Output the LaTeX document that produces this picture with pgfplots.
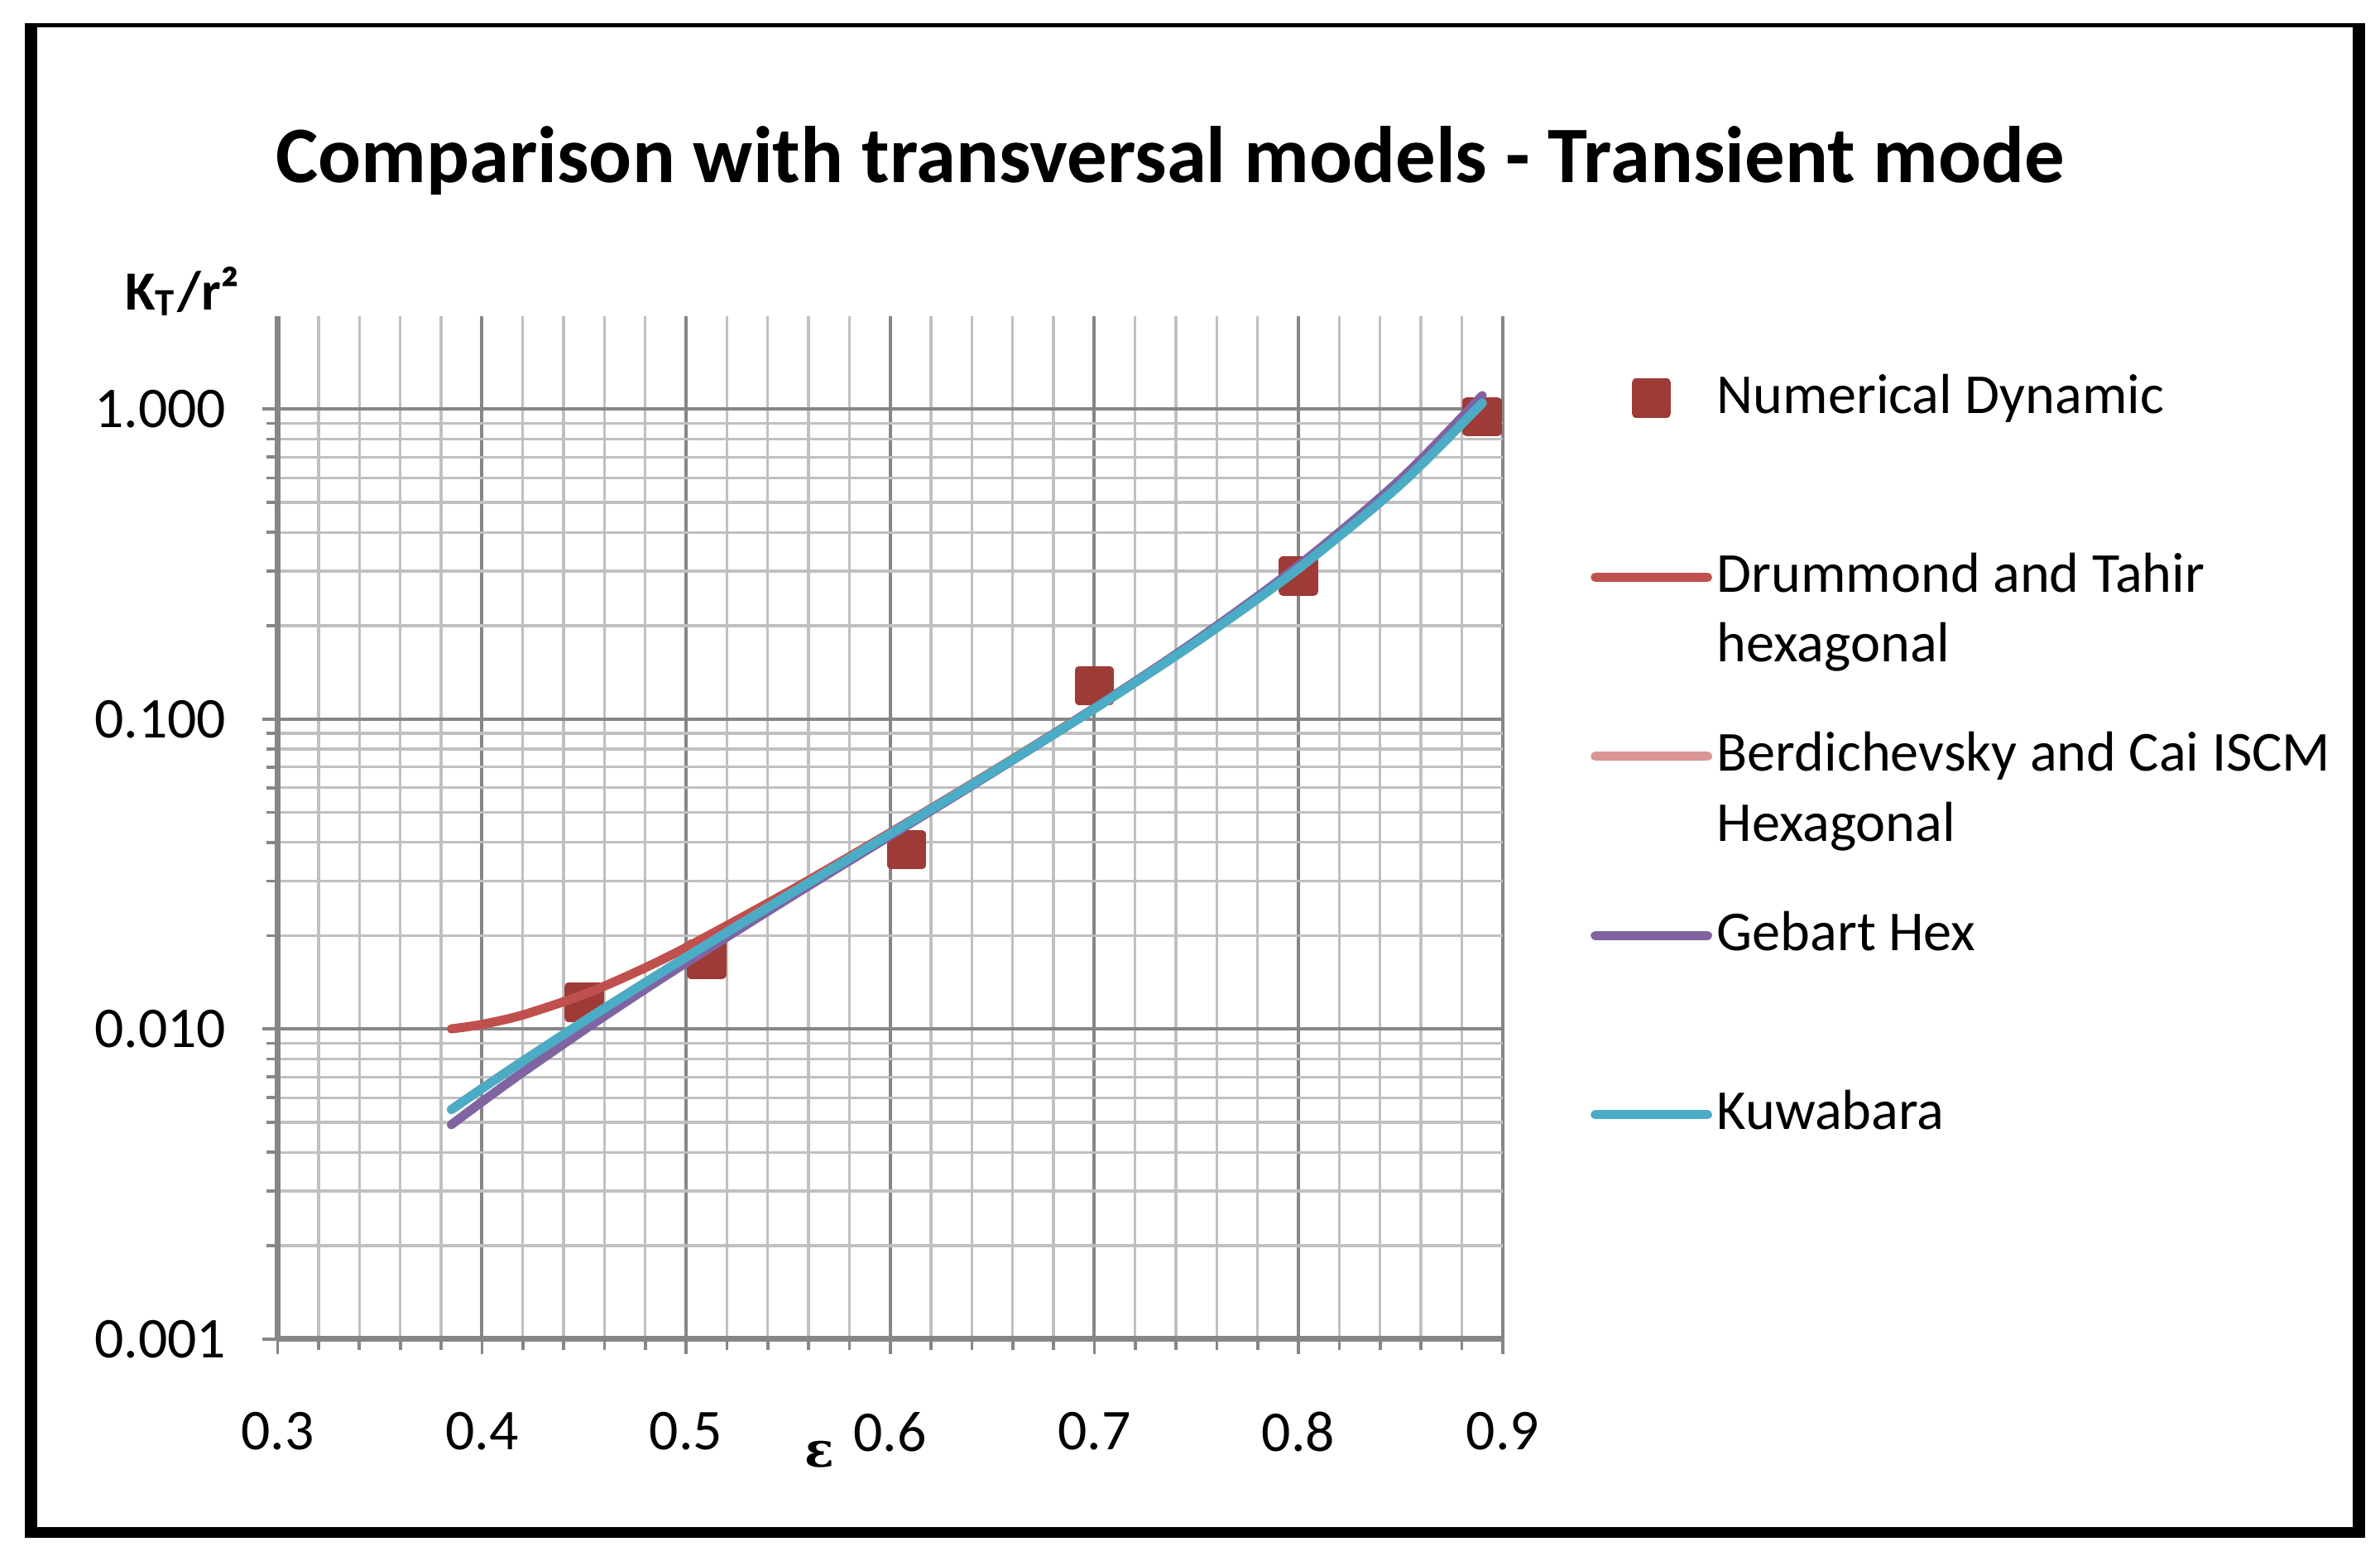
\documentclass[border=0pt]{standalone}
\usepackage{fontspec}
\setmainfont{Carlito}
\newfontfamily\epsfont{DejaVu Serif}
\usepackage{pgfplots}
\pgfplotsset{compat=1.18}

\definecolor{numred}{RGB}{158,59,55}
\definecolor{dtred}{RGB}{192,80,77}
\definecolor{bcpink}{RGB}{217,150,148}
\definecolor{gebpurple}{RGB}{128,100,162}
\definecolor{kuwcyan}{RGB}{75,172,198}
\definecolor{gridmaj}{RGB}{134,134,134}
\definecolor{gridmin}{RGB}{192,192,192}

\newcommand\twolines[2]{\begin{tabular}[t]{@{}l@{}}#1\\#2\end{tabular}}

\begin{document}
\begin{tikzpicture}
\useasboundingbox (-45.75pt,-36.5pt) rectangle (346.25pt,220.5pt);
\begin{axis}[
    scale only axis,
    width=201.75pt, height=168.5pt,
    at={(0,0)}, anchor=south west,
    ymode=log,
    xmin=0.3, xmax=0.9, ymin=0.001, ymax=2,
    xtick={0.3,0.4,0.5,0.6,0.7,0.8,0.9},
    xticklabels={0.3,0.4,0.5,0.6,0.7,0.8,0.9},
    minor x tick num=4,
    ytick={0.001,0.01,0.1,1},
    yticklabels={0.001,0.010,0.100,1.000},
    grid=both,
    major grid style={line width=0.55pt, gridmaj},
    minor grid style={line width=0.45pt, gridmin},
    axis x line*=bottom, axis y line*=left,
    axis line style={gridmaj, line width=0.9pt, -},
    tick align=outside,
    major tick length=2.5pt, minor tick length=1.8pt,
    tick style={gridmaj, line width=0.5pt},
    ticklabel style={font=\fontsize{9.5}{11}\selectfont},
    xticklabel style={yshift=-6pt},
    yticklabel style={xshift=-2.5pt},
    clip marker paths=true,
    every axis title shift=0pt,
    title={Comparison with transversal models - Transient mode},
    title style={at={(axis description cs:0.7286,1.1513)}, anchor=center,
        font=\bfseries\fontsize{13.2}{15}\selectfont},
    ylabel={K\textsubscript{T}/r²},
    every axis y label/.style={at={(axis description cs:-0.078,1.0237)}, anchor=center,
        font=\bfseries\fontsize{9.1}{11}\selectfont},
    xlabel={\epsfont\bfseries ε},
    every axis x label/.style={at={(axis description cs:0.4424,-0.1128)}, anchor=center,
        font=\fontsize{8}{10}\selectfont},
    legend style={at={(axis description cs:1.0719,0.9762)}, anchor=north west,
        draw=none, fill=none, inner sep=0pt, outer sep=0pt,
        row sep=0pt, column sep=0.8pt,
        nodes={inner sep=0pt, outer sep=0pt, text height=12pt, text depth=17.5pt,
            font=\fontsize{9.3}{11.5}\selectfont}},
    legend cell align=left,
    legend image code/.code={\draw[mark repeat=2,mark phase=2,#1]
        plot coordinates {(0pt,0pt) (9.25pt,0pt) (18.5pt,0pt)};},
    legend image post style={yshift=5.2pt},
    every axis plot/.append style={line width=1.5pt, line cap=round, line join=round},
]

% Numerical Dynamic
\addplot[only marks, mark=square*, mark size=2.5pt, color=numred] coordinates {
    (0.450,0.0122) (0.510,0.0168) (0.608,0.0379)
    (0.700,0.128) (0.800,0.289) (0.890,0.945)
};
\addlegendentry{Numerical Dynamic}

% Drummond and Tahir hexagonal
\addplot[dtred, smooth, no marks] coordinates {
    (0.385,0.01001) (0.400,0.01035) (0.420,0.01110) (0.450,0.01293)
    (0.475,0.01522) (0.500,0.01833) (0.550,0.02769) (0.600,0.04298)
    (0.650,0.06774) (0.700,0.1085) (0.750,0.1785) (0.800,0.3074)
    (0.850,0.5739) (0.890,1.050)
};
\addlegendentry{\twolines{Drummond and Tahir}{hexagonal}}

% Berdichevsky and Cai ISCM Hexagonal
\addplot[bcpink, smooth, no marks] coordinates {
    (0.385,0.00550) (0.400,0.00643) (0.420,0.00788) (0.450,0.01059)
    (0.475,0.01347) (0.500,0.01704) (0.550,0.02702) (0.600,0.04259)
    (0.650,0.06735) (0.700,0.1079) (0.750,0.1775) (0.800,0.3059)
    (0.850,0.5716) (0.890,1.047)
};
\addlegendentry{\twolines{Berdichevsky and Cai ISCM}{Hexagonal}}

% Gebart Hex
\addplot[gebpurple, smooth, no marks] coordinates {
    (0.385,0.00491) (0.400,0.00582) (0.420,0.00725) (0.450,0.00993)
    (0.475,0.01279) (0.500,0.01635) (0.550,0.02634) (0.600,0.04200)
    (0.650,0.06702) (0.700,0.1083) (0.750,0.1797) (0.800,0.3130)
    (0.850,0.5936) (0.890,1.106)
};
\addlegendentry{Gebart Hex}

% Kuwabara
\addplot[kuwcyan, smooth, no marks] coordinates {
    (0.385,0.00549) (0.400,0.00642) (0.420,0.00787) (0.450,0.01059)
    (0.475,0.01346) (0.500,0.01704) (0.550,0.02702) (0.600,0.04259)
    (0.650,0.06735) (0.700,0.1079) (0.750,0.1775) (0.800,0.3059)
    (0.850,0.5716) (0.890,1.047)
};
\addlegendentry{Kuwabara}

\end{axis}
% outer chart frame
\draw[line width=0.7pt] (-41.6pt,216.3pt) -- (343.75pt,216.3pt);
\draw[line width=2pt] (-40.6pt,216.65pt) -- (-40.6pt,-32.8pt);
\draw[line width=2pt] (342.75pt,216.65pt) -- (342.75pt,-32.8pt);
\draw[line width=1.8pt] (-41.6pt,-31.9pt) -- (343.75pt,-31.9pt);
\end{tikzpicture}
\end{document}
